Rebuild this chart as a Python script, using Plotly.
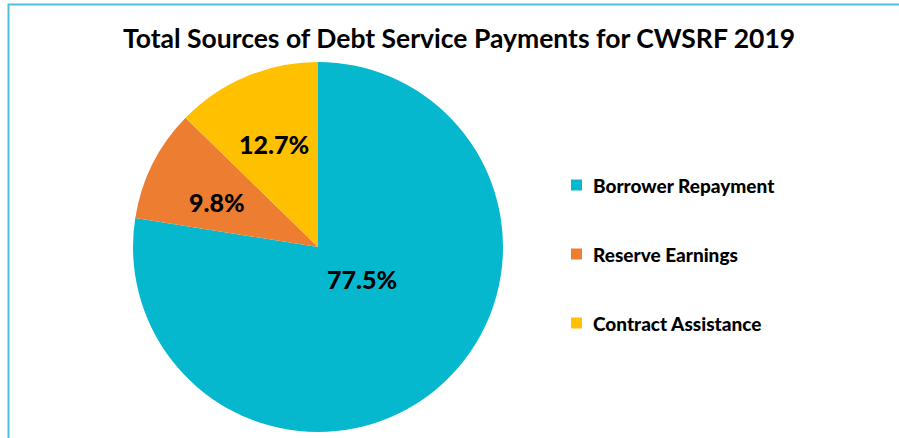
import plotly.graph_objects as go

# Debt service payment sources, CWSRF 2019 (percent of total)
categories = ["Borrower Repayment", "Reserve Earnings", "Contract Assistance"]
shares = [77.5, 9.8, 12.7]
colors = ["#05B8CE", "#ED7D31", "#FFC000"]

W, H = 899, 438
FONT = "Lato"

# Pie geometry in pixels (centre and radius)
cx, cy, r = 318, 247, 185

# Percent label anchor points in pixels, one per slice
label_pos = [(362, 279), (217, 202), (274, 144)]

# Legend layout in pixels
leg_x, leg_y0, leg_dy, sq = 571, 185, 69, 11


def px(x):
    return x / W


def py(y):
    return 1 - y / H


fig = go.Figure(
    go.Pie(
        labels=categories,
        values=shares,
        sort=False,
        direction="clockwise",
        rotation=0,
        marker=dict(colors=colors, line=dict(width=0)),
        textinfo="none",
        hoverinfo="label+percent",
        showlegend=False,
        domain=dict(x=[px(cx - r), px(cx + r)], y=[py(cy + r), py(cy - r)]),
    )
)

annotations = [
    dict(
        text="<b>Total Sources of Debt Service Payments for CWSRF 2019</b>",
        x=px(459), y=py(38), xref="paper", yref="paper",
        xanchor="center", yanchor="middle", showarrow=False,
        font=dict(family=FONT, size=26.5, color="#000000"),
    )
]

for (lx, ly), v in zip(label_pos, shares):
    annotations.append(
        dict(
            text=f"{v:.1f}%",
            x=px(lx), y=py(ly), xref="paper", yref="paper",
            xanchor="center", yanchor="middle", showarrow=False,
            font=dict(family=FONT, size=25, weight=900, color="#000000"),
        )
    )

shapes = [
    # frame around the chart
    dict(
        type="rect", xref="paper", yref="paper",
        x0=px(8.5), y0=py(H + 10), x1=px(W + 10), y1=py(4.5),
        line=dict(color="#4FBFDF", width=2), fillcolor="rgba(0,0,0,0)",
    )
]

for i, (name, col) in enumerate(zip(categories, colors)):
    yc = leg_y0 + i * leg_dy
    shapes.append(
        dict(
            type="rect", xref="paper", yref="paper",
            x0=px(leg_x), x1=px(leg_x + sq),
            y0=py(yc + sq / 2), y1=py(yc - sq / 2),
            fillcolor=col, line=dict(width=0),
        )
    )
    annotations.append(
        dict(
            text=name,
            x=px(leg_x + 20), y=py(yc), xref="paper", yref="paper",
            xanchor="left", yanchor="middle", showarrow=False,
            font=dict(family=FONT, size=19, weight=900, color="#000000"),
        )
    )

fig.update_layout(
    width=W,
    height=H,
    margin=dict(l=0, r=0, t=0, b=0),
    paper_bgcolor="#FFFFFF",
    plot_bgcolor="#FFFFFF",
    annotations=annotations,
    shapes=shapes,
)

fig.write_html("out.html")
